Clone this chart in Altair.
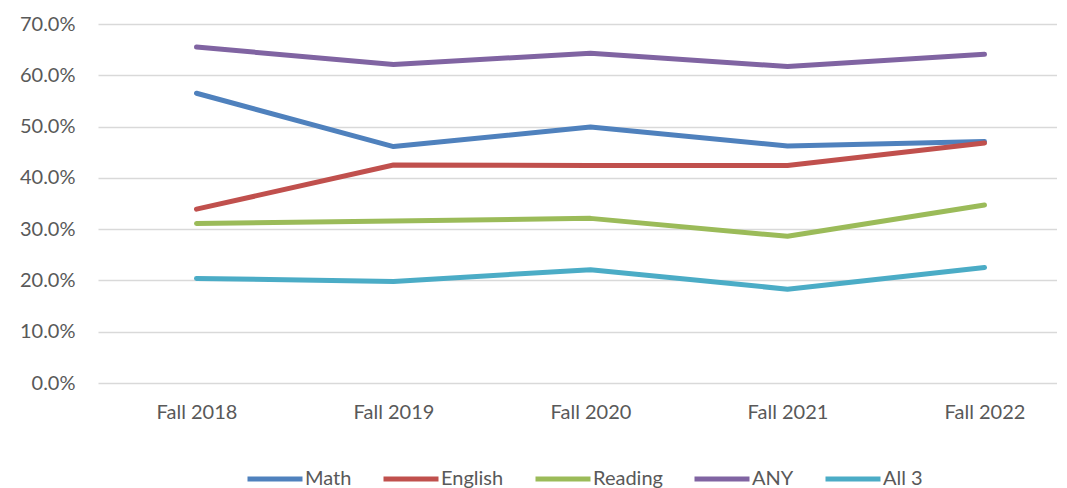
import altair as alt
import pandas as pd

terms = ["Fall 2018", "Fall 2019", "Fall 2020", "Fall 2021", "Fall 2022"]
series_names = ["Math", "English", "Reading", "ANY", "All 3"]
math = [0.565, 0.461, 0.499, 0.462, 0.471]
english = [0.339, 0.425, 0.424, 0.424, 0.468]
reading = [0.311, 0.316, 0.321, 0.286, 0.347]
any_ = [0.655, 0.621, 0.643, 0.617, 0.641]
all3 = [0.204, 0.198, 0.221, 0.183, 0.225]
colors = ["#4F81BD", "#C0504D", "#9BBB59", "#8064A2", "#4BACC6"]

rows = []
for name, vals in zip(series_names, [math, english, reading, any_, all3]):
    for i, (t, v) in enumerate(zip(terms, vals)):
        rows.append({"idx": i, "term": t, "series": name, "value": v})
df = pd.DataFrame(rows)

FONT = "Lato"
LABEL = "#595959"
label_expr = "[" + ",".join("'%s'" % t for t in terms) + "][datum.value]"

chart = alt.Chart(df).mark_line(strokeWidth=5, strokeCap="round", strokeJoin="round").encode(
    x=alt.X("idx:Q", title=None,
            scale=alt.Scale(domain=[-0.5, 4.368], nice=False, zero=False),
            axis=alt.Axis(grid=False, domain=False, ticks=False, labelAngle=0,
                          values=[0, 1, 2, 3, 4], labelExpr=label_expr,
                          labelPadding=19, labelFontSize=20, labelColor=LABEL, labelFont=FONT)),
    y=alt.Y("value:Q", title=None,
            scale=alt.Scale(domain=[0, 0.7], nice=False, zero=True),
            axis=alt.Axis(format=".1%", values=[0, 0.1, 0.2, 0.3, 0.4, 0.5, 0.6, 0.7],
                          grid=True, gridColor="#D9D9D9", gridWidth=1.5,
                          domain=False, ticks=False, labelPadding=23,
                          labelFontSize=20, labelColor=LABEL, labelFont=FONT)),
    color=alt.Color("series:N", sort=series_names,
                    scale=alt.Scale(domain=series_names, range=colors),
                    legend=alt.Legend(title=None, orient="none", legendX=147, legendY=425,
                                      direction="horizontal", columns=5,
                                      symbolType="stroke", symbolSize=3025, symbolStrokeWidth=5,
                                      labelFontSize=20, labelColor=LABEL, labelFont=FONT,
                                      labelOffset=0, columnPadding=21, labelLimit=0)),
    order=alt.Order("idx:Q"),
).properties(
    width=959, height=359,
    autosize=alt.AutoSizeParams(type="none"),
    padding={"left": 90, "top": 16, "right": 0, "bottom": 105},
).configure_view(stroke=None)

chart.save("out.html", embed_options={"renderer": "svg", "actions": False})
